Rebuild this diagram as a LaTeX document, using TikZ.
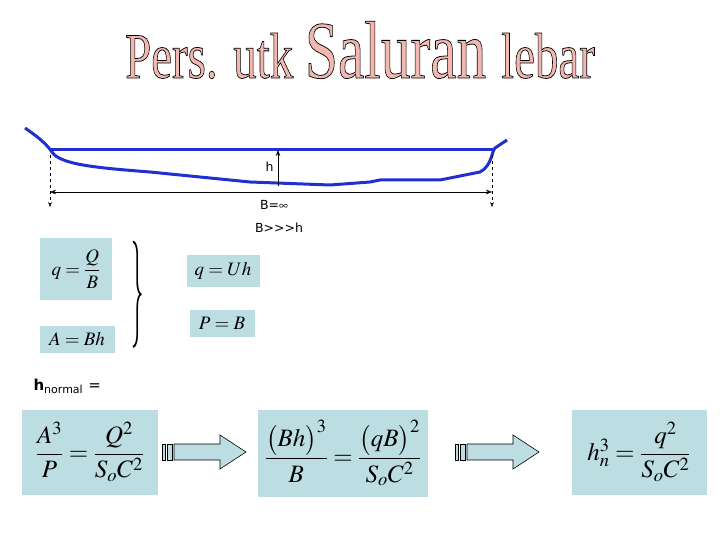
\documentclass[tikz,border=0pt]{standalone}
\usepackage{fontspec}
\usepackage{amsmath}
\usepackage{mathptmx}
\setsansfont{DejaVu Sans}
\newfontfamily\titlefont{Liberation Serif}
\usetikzlibrary{arrows.meta}
\definecolor{boxc}{HTML}{BCDEE3}
\definecolor{chan}{HTML}{1F2FD0}
\definecolor{titc}{HTML}{F2B8B0}
\tikzset{
  eqbox/.style={fill=boxc,inner sep=0pt},
  lbl/.style={font=\sffamily\fontsize{12.5}{14}\selectfont},
  blockarrow/.style={draw=black,fill=boxc,line width=0.6pt}
}
\begin{document}
\begin{tikzpicture}[x=1pt,y=-1pt]
\useasboundingbox (0,0) rectangle (720,540);
% title
\node (title) at (360,50) {\titlefont\color{titc}\special{pdf:literal direct 0 0 0 RG 2 Tr 0.4 w}\fontsize{34}{40}\selectfont\scalebox{1.38}[1.9]{Pers. utk \fontsize{43}{48}\selectfont Saluran \fontsize{34}{40}\selectfont lebar}\special{pdf:literal direct 0 Tr}};
% channel
\draw[chan,line width=3pt,line join=round] (25,128) .. controls (35,135) and (45,142) .. (52,152)
  .. controls (60,165) and (100,168) .. (150,172) -- (250,182) -- (330,185) -- (370,182) -- (380,180) -- (440,180) -- (480,172)
  .. controls (492,166) and (492,150) .. (495,148) -- (507,140);
\draw[chan,line width=3pt] (50,150) -- (493,150);
\coordinate (ht) at (278,150); \coordinate (hb) at (278,186);
\draw[-{Stealth[length=6pt]},{Stealth[length=6pt]}-,thick] (ht) -- (hb);
\node[lbl,anchor=east] (h) at (277,167) {h};
\coordinate (l1) at (50,155); \coordinate (l2) at (50,207);
\coordinate (r1) at (492,155); \coordinate (r2) at (492,207);
\draw[dashed,-{Stealth[length=5pt]}] (l1) -- (l2);
\draw[dashed,-{Stealth[length=5pt]}] (r1) -- (r2);
\coordinate (bl) at (50,192); \coordinate (br) at (492,192);
\draw[{Stealth[length=6pt]}-{Stealth[length=6pt]}] (bl) -- (br);
\node[lbl] (binf) at (274,205) {B=$\infty$};
\node[lbl] (bh) at (279,228) {B>{}>{}>h};
% small equations
\node[eqbox,minimum width=72pt,minimum height=62pt] (qQ) at (76,269) {\fontsize{19}{22}\selectfont$q=\dfrac{Q}{B}$};
\node[eqbox,minimum width=75pt,minimum height=27pt] (ABh) at (77,339) {\fontsize{19}{22}\selectfont$A=Bh$};
\node (brace) at (138,295) {\scalebox{1}[4.3]{\Huge$\}$}};
\node[eqbox,minimum width=73pt,minimum height=32pt] (qU) at (223,271) {\fontsize{19}{22}\selectfont$q=Uh$};
\node[eqbox,minimum width=65pt,minimum height=27pt] (PB) at (222,323) {\fontsize{19}{22}\selectfont$P=B$};
\node[anchor=west,font=\sffamily\bfseries\fontsize{15}{16}\selectfont] (hn) at (30,386) {h\textsubscript{\fontsize{11}{12}\selectfont\mdseries normal} \mdseries=};
% bottom equations
\node[eqbox,minimum width=136pt,minimum height=85pt] (e1) at (90,452) {\fontsize{25}{30}\selectfont$\dfrac{A^3}{P}=\dfrac{Q^2}{S_oC^2}$};
\node[eqbox,minimum width=170pt,minimum height=87pt] (e2) at (343,453) {\fontsize{25}{30}\selectfont$\dfrac{\bigl(Bh\bigr)^3}{B}=\dfrac{\bigl(qB\bigr)^2}{S_oC^2}$};
\node[eqbox,minimum width=135pt,minimum height=85pt] (e3) at (639,452) {\fontsize{25}{30}\selectfont$h_n^3=\dfrac{q^2}{S_oC^2}$};
% block arrows
\foreach \x/\n in {162/a1,455/a2}{
  \begin{scope}[shift={(\x,452)}]
  \draw[blockarrow] (0,-8) rectangle (3,8);
  \draw[blockarrow] (5,-8) rectangle (10,8);
  \draw[blockarrow] (12,-8) -- (58,-8) -- (58,-17) -- (84,0) -- (58,17) -- (58,8) -- (12,8) -- cycle;
  \end{scope}}
\end{tikzpicture}
\end{document}
